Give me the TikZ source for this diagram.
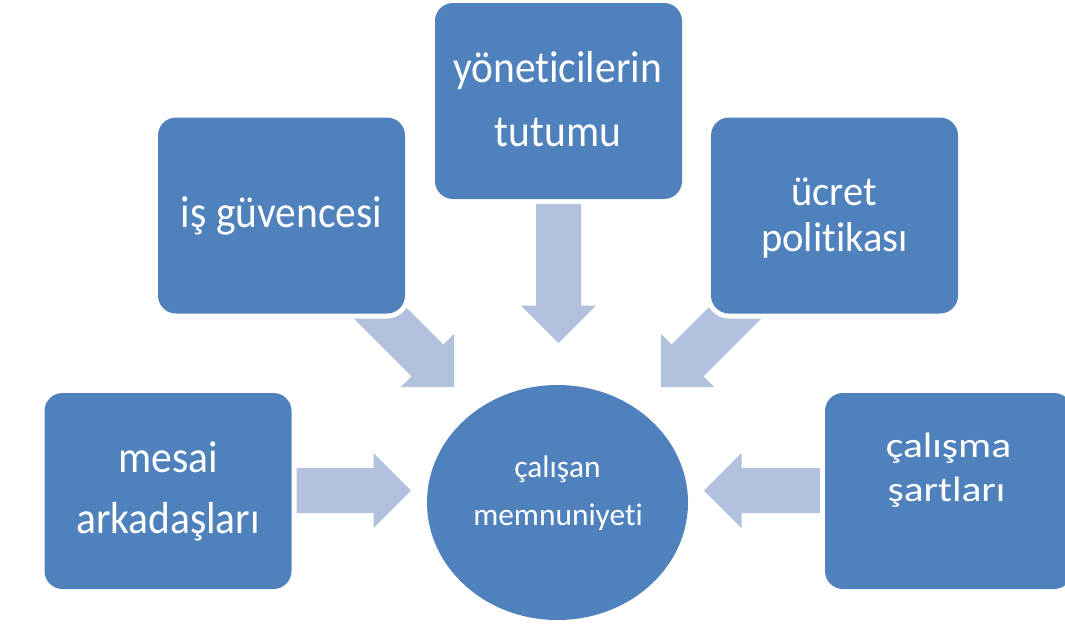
\documentclass[tikz,border=0pt]{standalone}
\usepackage{fontspec}
\usepackage{graphicx}
\setmainfont{Carlito}[RawFeature={-liga}]
\usetikzlibrary{shapes.geometric}
\definecolor{boxblue}{RGB}{79,129,189}
\definecolor{arrowfill}{RGB}{178,193,221}
\begin{document}
\begin{tikzpicture}[x=1pt,y=-1pt,
  box/.style={rectangle, rounded corners=18pt, fill=boxblue, minimum width=247pt,
    minimum height=196pt, inner sep=0pt, preaction={draw=white, line width=10pt}},
  hub/.style={ellipse, fill=boxblue, minimum width=261pt, minimum height=235pt,
    inner sep=0pt, preaction={draw=white, line width=6pt}},
  lbl/.style={anchor=base, text=white, inner sep=0pt},
  big/.style={font=\fontsize{41.5}{50}\selectfont},
  small/.style={font=\fontsize{31.4}{38}\selectfont},
  pics/blockarrow/.style={code={
    \fill[arrowfill] (0,0) -- (-37.5,37.5) -- (-37.5,22.5) -- (-#1,22.5)
      -- (-#1,-22.5) -- (-37.5,-22.5) -- (-37.5,-37.5) -- cycle;}}]
\useasboundingbox (0,0) rectangle (1065,625);
\clip (0,0) rectangle (1065,625);
\fill[white] (0,0) rectangle (1065,625);

% arrow tips
\coordinate (tA) at (411,490.5);
\coordinate (tB) at (454,387);
\coordinate (tC) at (558.5,343);
\coordinate (tD) at (661,387);
\coordinate (tE) at (704,490.5);

% block arrows (tails run under the boxes)
\pic[rotate=0] at (tA) {blockarrow=131};
\pic[rotate=-45] at (tB) {blockarrow=140};
\pic[rotate=-90] at (tC) {blockarrow=153};
\pic[rotate=-135] at (tD) {blockarrow=140};
\pic[rotate=180] at (tE) {blockarrow=131};

% boxes
\node[box] (mesai) at (168,491) {};
\node[box] (guv) at (281.5,215.5) {};
\node[box] (yon) at (558.5,101) {};
\node[box] (ucret) at (834.5,215.5) {};
\node[box] (calis) at (948.5,491) {};

% hub
\node[hub] (hub) at (557.5,502.5) {};

% labels
\node[lbl,big] (l1a) at (168,472) {\scalebox{1}[1.08]{mesai}};
\node[lbl,big] (l1b) at (168,533) {\scalebox{1}[1.08]{arkadaşları}};
\node[lbl,big] (l2) at (281.5,227) {\scalebox{1}[1.08]{iş güvencesi}};
\node[lbl,big] (l3a) at (557.5,82) {\scalebox{1}[1.08]{yöneticilerin}};
\node[lbl,big] (l3b) at (558,146) {\scalebox{1}[1.08]{tutumu}};
\node[lbl,font=\fontsize{40.5}{48}\selectfont] (l4a) at (834,205) {\scalebox{1}[1.03]{ücret}};
\node[lbl,font=\fontsize{40.5}{48}\selectfont] (l4b) at (834.5,251) {\scalebox{1}[1.03]{politikası}};
\node[lbl,font=\fontsize{41.5}{48}\selectfont] (l5a) at (948.5,457) {\scalebox{1}[0.85]{çalışma}};
\node[lbl,font=\fontsize{41.5}{48}\selectfont] (l5b) at (946.5,501) {\scalebox{1}[0.85]{şartları}};
\node[lbl,small] (h1) at (557.5,477) {çalışan};
\node[lbl,small] (h2) at (558,525) {memnuniyeti};
\end{tikzpicture}
\end{document}
